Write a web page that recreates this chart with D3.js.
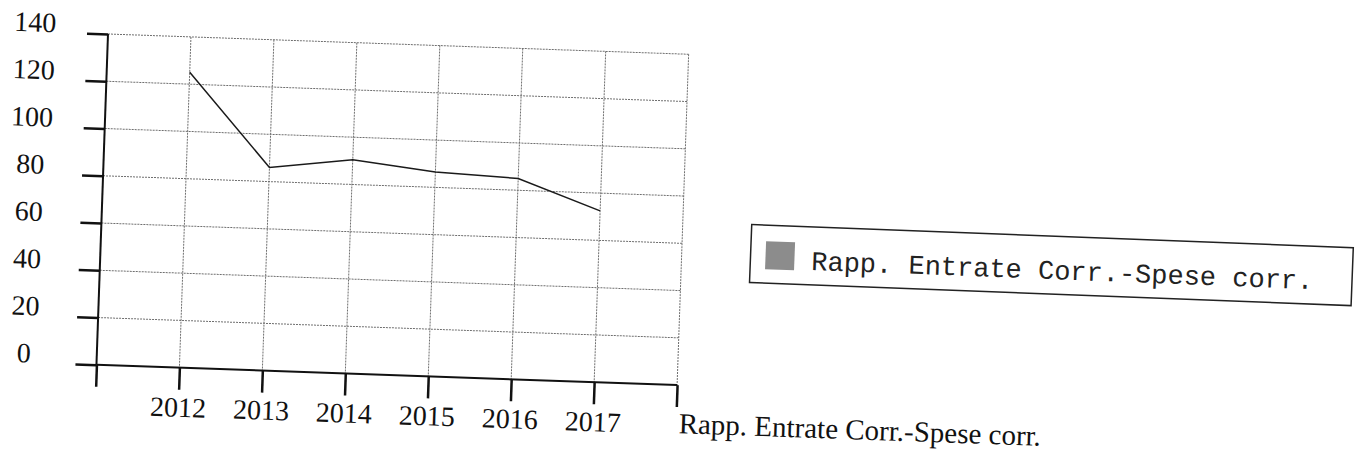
<!DOCTYPE html>
<html>
<head>
<meta charset="utf-8">
<script src="https://cdn.jsdelivr.net/npm/d3@7"></script>
<style>
  html, body { margin: 0; padding: 0; background: #fff; }
  svg { display: block; }
</style>
</head>
<body>
<svg id="chart" width="1356" height="457"></svg>
<script>
// data
const years = [2012, 2013, 2014, 2015, 2016, 2017];
const values = [125, 86, 90.5, 86.5, 85, 72.5];
const yTicks = [0, 20, 40, 60, 80, 100, 120, 140];
const seriesName = 'Rapp. Entrate Corr.-Spese corr.';

const svg = d3.select('#chart');
const margin = { top: 34, left: 108 };
const width = 581;
const height = 331;
const tilt = 2; // the scan is slightly rotated

const root = svg.append('g')
  .attr('transform', `rotate(${tilt},${margin.left},${margin.top}) translate(${margin.left},${margin.top})`);

const x = d3.scaleLinear().domain([2011, 2018]).range([0, width]);
const y = d3.scaleLinear().domain([0, 140]).range([height, 0]);
const xTicks = d3.range(2011, 2019);

const serif = 'Liberation Serif, Times New Roman, serif';
const gridColor = '#6f6f6f';

// grid lines
root.append('g')
  .selectAll('line')
  .data(yTicks.filter(d => d > 0))
  .join('line')
  .attr('x1', 0).attr('x2', width)
  .attr('y1', d => y(d)).attr('y2', d => y(d))
  .attr('stroke', gridColor)
  .attr('stroke-width', 1)
  .attr('stroke-dasharray', '2,1');

root.append('g')
  .selectAll('line')
  .data(xTicks.filter(d => d > 2011))
  .join('line')
  .attr('x1', d => x(d)).attr('x2', d => x(d))
  .attr('y1', 0).attr('y2', height)
  .attr('stroke', gridColor)
  .attr('stroke-width', 1)
  .attr('stroke-dasharray', '2,1');

// y axis
const yAxis = d3.axisLeft(y)
  .tickValues(yTicks)
  .tickSize(21)
  .tickFormat('');
root.append('g')
  .call(yAxis)
  .call(g => {
    g.select('.domain').attr('stroke', '#111').attr('stroke-width', 2).attr('d', `M0,0V${height}`);
    g.selectAll('.tick line').attr('stroke', '#111').attr('stroke-width', 2.5);
  });

root.append('g')
  .selectAll('text')
  .data(yTicks)
  .join('text')
  .attr('x', -73)
  .attr('y', d => y(d))
  .attr('text-anchor', 'middle')
  .attr('font-family', serif)
  .attr('font-size', 28)
  .attr('fill', '#111')
  .text(d => d);

// x axis
const xAxis = d3.axisBottom(x)
  .tickValues(xTicks)
  .tickSize(22)
  .tickFormat('');
root.append('g')
  .attr('transform', `translate(0,${height})`)
  .call(xAxis)
  .call(g => {
    g.select('.domain').attr('stroke', '#111').attr('stroke-width', 2).attr('d', `M0,0H${width}`);
    g.selectAll('.tick line').attr('stroke', '#111').attr('stroke-width', 2.5);
  });

root.append('g')
  .selectAll('text')
  .data(years)
  .join('text')
  .attr('x', d => x(d))
  .attr('y', height + 49)
  .attr('text-anchor', 'middle')
  .attr('font-family', serif)
  .attr('font-size', 28)
  .attr('fill', '#111')
  .text(d => d);

// axis title after the end of the x axis
root.append('text')
  .attr('x', width + 3)
  .attr('y', height + 48)
  .attr('font-family', serif)
  .attr('font-size', 29)
  .attr('fill', '#111')
  .text(seriesName);

// series line
const line = d3.line()
  .x((d, i) => x(years[i]))
  .y(d => y(d));
root.append('path')
  .datum(values)
  .attr('d', line)
  .attr('fill', 'none')
  .attr('stroke', '#1a1a1a')
  .attr('stroke-width', 1.5);

// legend
const legend = root.append('g')
  .attr('transform', `translate(${width + 69},${y(140) + 168}) rotate(0.2)`);
legend.append('rect')
  .attr('width', 602)
  .attr('height', 58)
  .attr('fill', 'none')
  .attr('stroke', '#222')
  .attr('stroke-width', 1.5);
legend.append('rect')
  .attr('x', 15)
  .attr('y', 16)
  .attr('width', 29)
  .attr('height', 28)
  .attr('fill', '#8c8c8c');
legend.append('text')
  .attr('x', 61)
  .attr('y', 43)
  .attr('font-family', 'Liberation Mono, Courier New, monospace')
  .attr('font-size', 27)
  .attr('fill', '#222')
  .text(seriesName);
</script>
</body>
</html>
